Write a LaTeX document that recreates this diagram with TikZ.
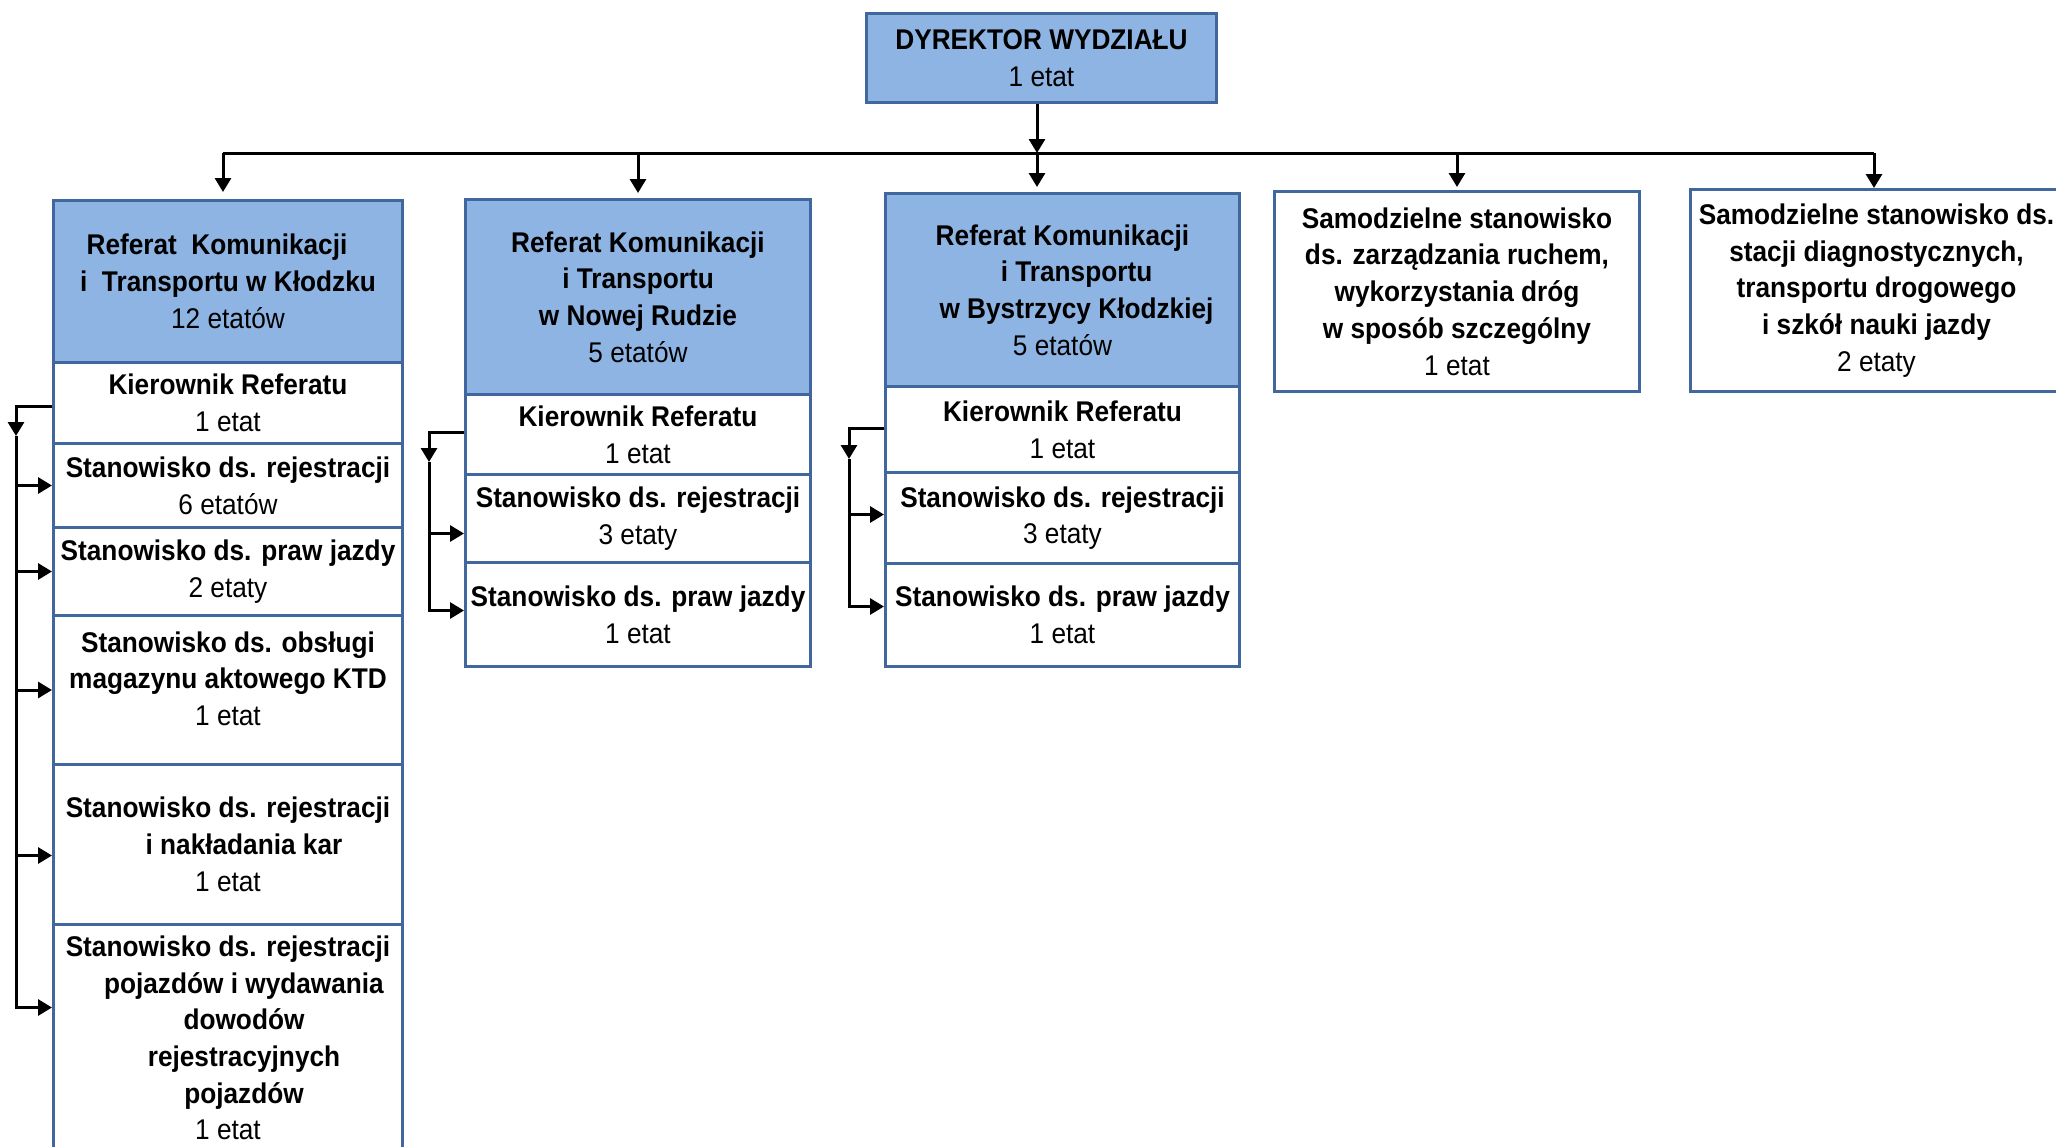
\documentclass[tikz,border=0pt]{standalone}
\usepackage{fontspec}
\setmainfont[FakeStretch=0.92]{Liberation Sans}
\usetikzlibrary{arrows.meta}
\definecolor{headblue}{HTML}{8EB4E3}
\definecolor{boxline}{HTML}{41689E}

\begin{document}
\begin{tikzpicture}[x=1pt,y=-1pt,
  box/.style={draw=boxline, line width=3pt, anchor=north west, inner sep=0pt, align=center,
    font=\fontsize{28.5}{36.7}\selectfont},
  head/.style={box, fill=headblue},
  link/.style={line width=3pt},
  arr/.style={link, -{Triangle[length=14pt,width=16pt]}}]
\useasboundingbox (0,0) rectangle (2056,1146);

% dyrektor
\node[head, minimum width=350pt, minimum height=89pt] (dyr) at (865,12) {\textbf{DYREKTOR WYDZIAŁU}\\1 etat};

% referat w Kłodzku
\node[head, minimum width=349pt, minimum height=162pt] (k1) at (52,199) {\textbf{Referat\ \ Komunikacji}\hspace*{22pt}\\\textbf{i\ \ Transportu w Kłodzku}\\12 etatów};
\node[box, minimum width=349pt, minimum height=81pt] (k1kier) at (52,361) {\textbf{Kierownik Referatu}\\1 etat};
\node[box, minimum width=349pt, minimum height=84pt] (k1rej) at (52,442) {\textbf{Stanowisko ds. rejestracji}\\6 etatów};
\node[box, minimum width=349pt, minimum height=88pt] (k1praw) at (52,526) {\textbf{Stanowisko ds. praw jazdy}\\2 etaty};
\node[box, minimum width=349pt, minimum height=149pt] (k1mag) at (52,614) {\textbf{Stanowisko ds. obsługi}\\\textbf{magazynu aktowego KTD}\\1 etat\\[-14pt]\mbox{}};
\node[box, minimum width=349pt, minimum height=160pt] (k1kar) at (52,763) {\textbf{Stanowisko ds. rejestracji}\\\hspace*{32pt}\textbf{i nakładania kar}\\1 etat};
\node[box, minimum width=349pt, minimum height=227pt] (k1poj) at (52,923) {\textbf{Stanowisko ds. rejestracji}\\\hspace*{32pt}\textbf{pojazdów i wydawania}\\\hspace*{32pt}\textbf{dowodów}\\\hspace*{32pt}\textbf{rejestracyjnych}\\\hspace*{32pt}\textbf{pojazdów}\\1 etat};

% referat w Nowej Rudzie
\node[head, minimum width=345pt, minimum height=195pt] (k2) at (464,198) {\textbf{Referat Komunikacji}\\\textbf{i Transportu}\\\textbf{w Nowej Rudzie}\\5 etatów};
\node[box, minimum width=345pt, minimum height=80pt] (k2kier) at (464,393) {\textbf{Kierownik Referatu}\\1 etat};
\node[box, minimum width=345pt, minimum height=88pt] (k2rej) at (464,473) {\textbf{Stanowisko ds. rejestracji}\\3 etaty};
\node[box, minimum width=345pt, minimum height=104pt] (k2praw) at (464,561) {\textbf{Stanowisko ds. praw jazdy}\\1 etat};

% referat w Bystrzycy Kłodzkiej
\node[head, minimum width=354pt, minimum height=193pt] (k3) at (884,192) {\textbf{Referat Komunikacji}\\\hspace*{28pt}\textbf{i Transportu}\\\hspace*{28pt}\textbf{w Bystrzycy Kłodzkiej}\\5 etatów};
\node[box, minimum width=354pt, minimum height=86pt] (k3kier) at (884,385) {\textbf{Kierownik Referatu}\\1 etat};
\node[box, minimum width=354pt, minimum height=91pt] (k3rej) at (884,471) {\textbf{Stanowisko ds. rejestracji}\\3 etaty};
\node[box, minimum width=354pt, minimum height=103pt] (k3praw) at (884,562) {\textbf{Stanowisko ds. praw jazdy}\\1 etat};

% samodzielne stanowiska
\node[box, minimum width=365pt, minimum height=200pt] (ruch) at (1273,190) {\textbf{Samodzielne stanowisko}\\\textbf{ds. zarządzania ruchem,}\\\textbf{wykorzystania dróg}\\\textbf{w sposób szczególny}\\1 etat};
\node[box, minimum width=372pt, minimum height=202pt] (szk) at (1689,188) {\textbf{Samodzielne stanowisko ds.}\\\textbf{stacji diagnostycznych,}\\\textbf{transportu drogowego}\\\textbf{i szkół nauki jazdy}\\2 etaty};

% linie
\coordinate (bus) at (1037,153);
\coordinate (busL) at (223,153);
\coordinate (busR) at (1874,153);
\draw[arr] (bus |- dyr.south) -- (bus);
\draw[link] (busL) -- (busR);
\draw[arr, shorten >=7pt] (busL) -- (busL |- k1.north);
\draw[arr, shorten >=5pt] (k2.north |- busL) -- (k2.north);
\draw[arr, shorten >=5pt] (bus) -- (bus |- k3.north);
\draw[arr, shorten >=3pt] (ruch.north |- busL) -- (ruch.north);
\draw[arr] (busR) -- (busR |- szk.north);

\coordinate (r1) at (16,436);
\draw[arr] ([yshift=-3.5pt]k1kier.west) -| (r1);
\draw[arr] (r1) |- ([yshift=30.5pt]k1poj.west);
\draw[arr] (r1 |- k1rej.west) -- (k1rej.west);
\draw[arr] (r1 |- k1praw.west) -- (k1praw.west);
\draw[arr] (r1 |- k1mag.west) -- (k1mag.west);
\draw[arr] (r1 |- k1kar.west) ++(0,11) -- ++(36,0);

\coordinate (r2) at (429,462);
\draw[arr] ([yshift=2pt]k2kier.west) -| (r2);
\draw[arr] (r2) |- ([yshift=4pt]k2praw.west);
\draw[arr] (r2 |- k2rej.west) ++(0,15) -- ++(35,0);

\coordinate (r3) at (849,459);
\draw[arr] ([yshift=1pt]k3kier.west) -| (r3);
\draw[arr] (r3) |- ([yshift=8.5pt]k3praw.west);
\draw[arr] (r3 |- k3rej.west) ++(0,-3.5) -- ++(35,0);
\end{tikzpicture}
\end{document}
